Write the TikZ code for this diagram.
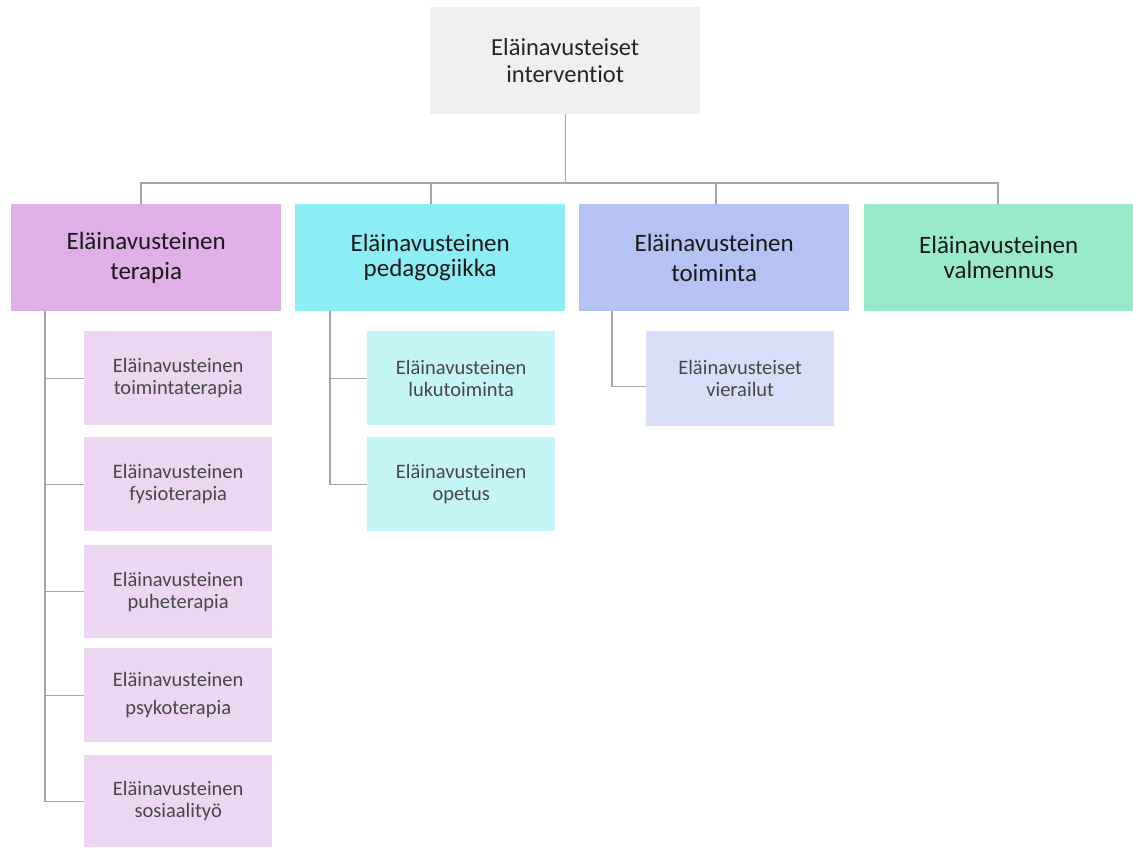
\documentclass[tikz,border=0pt]{standalone}
\usepackage{fontspec}
\setmainfont[Ligatures=NoCommon]{Carlito}
\begin{document}
\begin{tikzpicture}[x=1pt,y=-1pt,
  box/.style={anchor=north west,inner sep=0pt,align=center,draw=none},
  root/.style={box,fill=rootc,minimum width=270pt,minimum height=107pt,font=\fontsize{24.5}{27}\selectfont,text=black!85},
  lvl/.style={box,minimum width=270pt,minimum height=107pt,font=\fontsize{25}{30}\selectfont,text=black!90},
  sub/.style={box,minimum width=188pt,minimum height=94pt,font=\fontsize{20.5}{22}\selectfont,text=black!72},
  conn/.style={draw=linec,line width=1.1pt}]
\definecolor{rootc}{HTML}{F0F0F0}
\definecolor{linec}{HTML}{A6A6A6}
\definecolor{terA}{HTML}{DFB0E6}
\definecolor{terB}{HTML}{EDD6F2}
\definecolor{pedA}{HTML}{8CEDF5}
\definecolor{pedB}{HTML}{C6F5F8}
\definecolor{toiA}{HTML}{B4C3F3}
\definecolor{toiB}{HTML}{D9DFF9}
\definecolor{valA}{HTML}{98EACB}
\useasboundingbox (0,0) rectangle (1133,847);
\node[root] (root) at (430,7) {Eläinavusteiset\\interventiot};
\node[lvl,fill=terA] (ter) at (11,204) {Eläinavusteinen\\terapia};
\node[lvl,fill=pedA] (ped) at (295,204) {Eläinavusteinen\\[-5pt]pedagogiikka};
\node[lvl,fill=toiA] (toi) at (579,204) {Eläinavusteinen\\toiminta};
\node[lvl,fill=valA,minimum width=269pt] (val) at (864,204) {Eläinavusteinen\\[-5pt]valmennus};
\node[sub,fill=terB] (t1) at (84,331) {Eläinavusteinen\\toimintaterapia};
\node[sub,fill=terB] (t2) at (84,437) {Eläinavusteinen\\fysioterapia};
\node[sub,fill=terB,minimum height=93pt] (t3) at (84,545) {Eläinavusteinen\\puheterapia};
\node[sub,fill=terB] (t4) at (84,648) {Eläinavusteinen\\[6pt]psykoterapia};
\node[sub,fill=terB,minimum height=92pt] (t5) at (84,755) {Eläinavusteinen\\sosiaalityö};
\node[sub,fill=pedB] (p1) at (367,331) {Eläinavusteinen\\lukutoiminta};
\node[sub,fill=pedB] (p2) at (367,437) {Eläinavusteinen\\opetus};
\node[sub,fill=toiB,minimum height=95pt] (v1) at (646,331) {Eläinavusteiset\\vierailut};
\coordinate (bus) at (root.south |- 0,183);
\draw[conn] (root.south) -- (bus);
\draw[conn] (ter.north -| 141,0) |- (bus);
\draw[conn] (ped.north -| 431,0) -- (431,183);
\draw[conn] (toi.north -| 716,0) -- (716,183);
\draw[conn] (val.north -| 998,0) |- (bus);
\foreach \n in {t1,t2,t3,t4,t5}{\draw[conn] (ter.south -| 45,0) |- (\n.west);}
\foreach \n in {p1,p2}{\draw[conn] (ped.south -| 330,0) |- (\n.west);}
\draw[conn] (toi.south -| 612,0) |- ([yshift=-8pt]v1.west);
\end{tikzpicture}
\end{document}
